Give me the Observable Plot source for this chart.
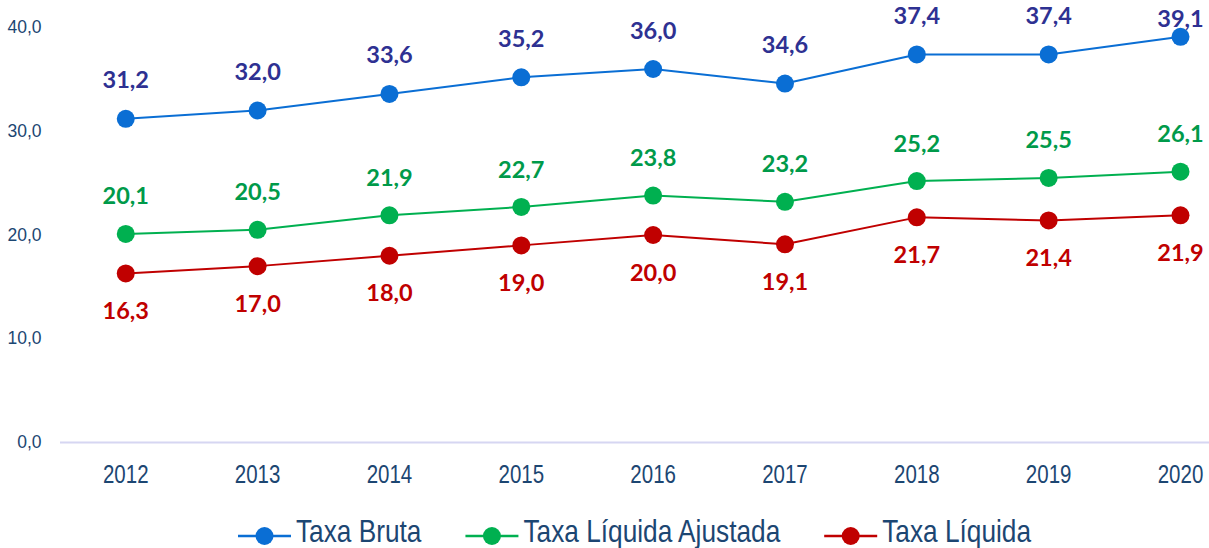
<!DOCTYPE html>
<html><head><meta charset="utf-8">
<script src="https://cdn.jsdelivr.net/npm/d3@7"></script>
<script src="https://cdn.jsdelivr.net/npm/@observablehq/plot@0.6"></script>
<style>
body{margin:0;background:#fff;}
#chart svg, #legend svg{display:block;}
</style></head><body>
<div id="chart"></div>
<div id="legend"></div>
<script>
const years = [2012,2013,2014,2015,2016,2017,2018,2019,2020];
const taxaBruta = [31.2,32.0,33.6,35.2,36.0,34.6,37.4,37.4,39.1];
const taxaLiqAjustada = [20.1,20.5,21.9,22.7,23.8,23.2,25.2,25.5,26.1];
const taxaLiquida = [16.3,17.0,18.0,19.0,20.0,19.1,21.7,21.4,21.9];
const yTicks = [0,10,20,30,40];
const seriesNames = ["Taxa Bruta","Taxa Líquida Ajustada","Taxa Líquida"];

const lineColors = ["#0a6ed4","#00b050","#c00000"];
const labelColors = ["#2e3192","#009a4a","#c00000"];
const labelDy = [-38,-37,38];
const allSeries = [taxaBruta,taxaLiqAjustada,taxaLiquida];
const data = [];
allSeries.forEach((vals,i)=>vals.forEach((v,j)=>data.push({s:seriesNames[i],i,year:years[j],v})));
const fmt = v => v.toFixed(1).replace(".",",");
const axisFont = "'Liberation Sans', Arial, sans-serif";
const labelFont = "Lato, 'Open Sans', sans-serif";
const textColor = "#1c4672";

const marks = [
  Plot.ruleY([0],{stroke:"#d6d6f2",strokeWidth:2}),
];
allSeries.forEach((vals,i)=>{
  const d = data.filter(r=>r.i===i);
  marks.push(Plot.line(d,{x:"year",y:"v",stroke:lineColors[i],strokeWidth:2}));
  marks.push(Plot.dot(d,{x:"year",y:"v",fill:lineColors[i],r:9,stroke:"none"}));
  const last = years[years.length-1];
  const topEdge = i===0;
  marks.push(Plot.text(d.filter(r=>!(topEdge && r.year===last)),{x:"year",y:"v",text:r=>fmt(r.v),dy:labelDy[i],fill:labelColors[i],fontSize:23.5,fontWeight:"bold",fontFamily:labelFont}));
  if (topEdge) marks.push(Plot.text(d.filter(r=>r.year===last),{x:"year",y:"v",text:r=>fmt(r.v),dy:-17,fill:labelColors[i],fontSize:23.5,fontWeight:"bold",fontFamily:labelFont}));
});
marks.push(Plot.axisY({ticks:yTicks,tickFormat:fmt,tickSize:0,tickPadding:19,fontSize:17.5,fill:textColor,fontFamily:axisFont,label:null}));
marks.push(Plot.axisX({ticks:years,tickFormat:d=>String(d),tickSize:0,tickPadding:23,fontSize:25,fill:textColor,fontFamily:axisFont,label:null}));

const chart = Plot.plot({
  width:1209,height:490,
  marginLeft:60,marginRight:0,marginTop:27,marginBottom:48,
  x:{domain:[2011.505,2020.22],label:null},
  y:{domain:[0,40],label:null},
  style:{background:"#fff",overflow:"visible"},
  marks
});
document.getElementById("chart").appendChild(chart);

// narrow the x-axis labels (Arial Narrow look)
d3.select(chart).selectAll('g[aria-label="x-axis tick label"] text').each(function(){
  const w = this.getComputedTextLength();
  this.setAttribute("textLength", (w*0.82).toFixed(1));
  this.setAttribute("lengthAdjust","spacingAndGlyphs");
});

// legend
const W = 1209, H = 58;
const leg = d3.select("#legend").append("svg").attr("width",W).attr("height",H);
const g = leg.append("g");
let x = 0;
const gap = 44, lineW = 53, textGap = 5;
seriesNames.forEach((n,i)=>{
  const item = g.append("g").attr("transform",`translate(${x},0)`);
  item.append("line").attr("x1",0).attr("x2",lineW).attr("y1",46).attr("y2",46).attr("stroke",lineColors[i]).attr("stroke-width",2.5);
  item.append("circle").attr("cx",lineW/2).attr("cy",46).attr("r",9).attr("fill",lineColors[i]);
  const t = item.append("text").attr("x",lineW+textGap).attr("y",52).text(n)
    .attr("font-family",axisFont).attr("font-size",32).attr("fill",textColor);
  const w = t.node().getComputedTextLength()*0.82;
  t.attr("textLength",w.toFixed(1)).attr("lengthAdjust","spacingAndGlyphs");
  x += lineW + textGap + w + gap;
});
const total = x - gap;
g.attr("transform",`translate(${(W-total)/2 + 30},0)`);
</script></body></html>
